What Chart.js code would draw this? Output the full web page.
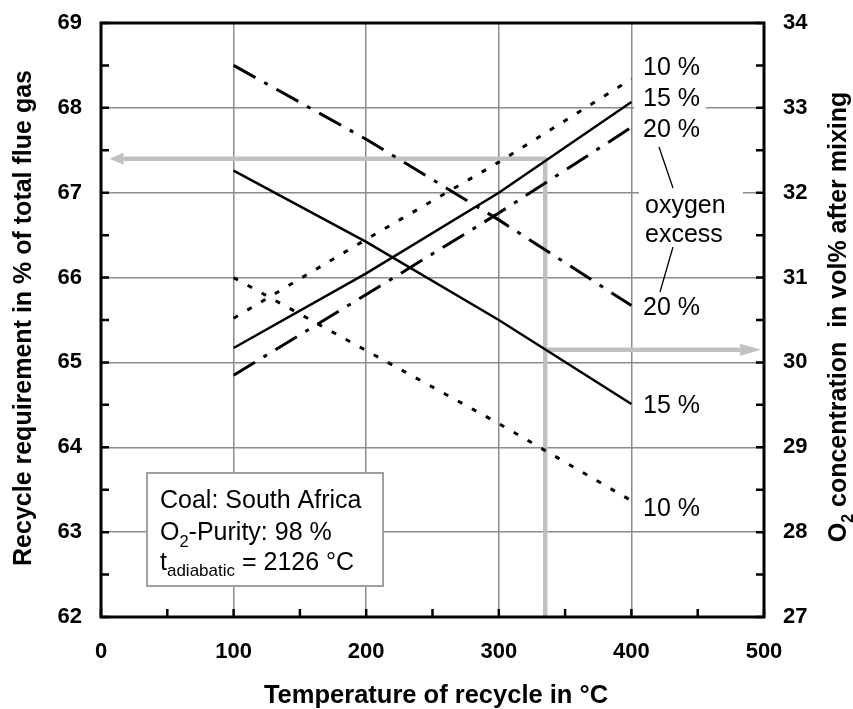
<!DOCTYPE html>
<html><head><meta charset="utf-8">
<script src="https://cdn.jsdelivr.net/npm/chart.js@4/dist/chart.umd.min.js"></script>
<style>html,body{margin:0;padding:0;background:#fff;}</style>
</head><body>
<canvas id="c" width="853" height="709" style="display:block;width:853px;height:709px"></canvas>
<script>
// ---- data ----
const temps = [100, 200, 300, 400];
// recycle requirement (left axis, % of total flue gas) - falling lines
const recycle10 = [66.0, 65.14, 64.28, 63.37];
const recycle15 = [67.26, 66.42, 65.5, 64.51];
const recycle20 = [68.5, 67.63, 66.68, 65.67];
// O2 concentration after mixing (right axis, vol%) - rising lines
const o2conc10 = [30.52, 31.45, 32.36, 33.34];
const o2conc15 = [30.17, 31.05, 32.0, 33.07];
const o2conc20 = [29.85, 30.8, 31.76, 32.77];
// reading example (grey guide)
const guideTemp = [335, 335, 17];
const guideRecycle = [62, 67.4, 67.4];
const guideO2Temp = [335, 482];
const guideO2 = [30.15, 30.15];
const xTicks = [0, 100, 200, 300, 400, 500];

const FONT = '"Liberation Sans", Arial, Helvetica, sans-serif';
const pts = (xs, ys) => xs.map((x, i) => ({x: x, y: ys[i]}));

const dotted = [5, 11];
const dashDot = [25, 10, 4, 10];

function lineDs(data, axis, dash, width) {
  return {data: data, yAxisID: axis, borderColor: '#000', borderWidth: width,
          borderDash: dash, pointRadius: 0, tension: 0, fill: false, order: 0};
}

function head(ctx, tip, from, len, half) {
  const dx = tip.x - from.x, dy = tip.y - from.y;
  const L = Math.hypot(dx, dy); const ux = dx / L, uy = dy / L;
  const bx = tip.x, by = tip.y;
  const ex = bx + ux * len, ey = by + uy * len;
  ctx.beginPath();
  ctx.moveTo(ex, ey);
  ctx.lineTo(bx - uy * half, by + ux * half);
  ctx.lineTo(bx + uy * half, by - ux * half);
  ctx.closePath();
  ctx.fill();
}

const deco = {
  id: 'deco',
  afterDatasetsDraw(chart) {
    const ctx = chart.ctx;
    const a = chart.chartArea;
    const xs = chart.scales.x, ys = chart.scales.y, y2 = chart.scales.y2;
    ctx.save();
    // arrow heads for the grey guides
    ctx.fillStyle = '#c0c0c0';
    const m1 = chart.getDatasetMeta(6).data;
    head(ctx, m1[2], m1[1], 14, 6);
    const m2 = chart.getDatasetMeta(7).data;
    head(ctx, m2[1], m2[0], 21, 6);

    // white backgrounds behind some labels
    ctx.fillStyle = '#fff';
    ctx.fillRect(634, 95, 72, 19);
    ctx.fillRect(639, 180, 104, 68);

    // labels
    ctx.fillStyle = '#000';
    ctx.font = '25px ' + FONT;
    ctx.textAlign = 'left';
    ctx.textBaseline = 'alphabetic';
    ctx.fillText('10 %', 643, 75);
    ctx.fillText('15 %', 643, 106);
    ctx.fillText('20 %', 643, 137);
    ctx.fillText('oxygen', 645, 213);
    ctx.fillText('excess', 645, 242);
    ctx.fillText('20 %', 643, 315);
    ctx.fillText('15 %', 643, 413);
    ctx.fillText('10 %', 643, 516);

    // leader lines
    ctx.strokeStyle = '#000';
    ctx.lineWidth = 1.3;
    ctx.beginPath();
    ctx.moveTo(659, 147); ctx.lineTo(673, 188);
    ctx.moveTo(673, 247); ctx.lineTo(660, 292);
    ctx.stroke();

    // info box
    ctx.fillStyle = '#fff';
    ctx.fillRect(147, 473, 236, 113);
    ctx.strokeStyle = '#a0a0a0';
    ctx.lineWidth = 2;
    ctx.strokeRect(147, 473, 236, 113);
    ctx.fillStyle = '#000';
    ctx.font = '25px ' + FONT;
    let x = 160;
    ctx.fillText('Coal: South Africa', x, 508);
    ctx.fillText('O', x, 540);
    let w = ctx.measureText('O').width;
    ctx.font = '16.5px ' + FONT;
    ctx.fillText('2', x + w, 547);
    let w2 = ctx.measureText('2').width;
    ctx.font = '25px ' + FONT;
    ctx.fillText('-Purity: 98 %', x + w + w2, 540);
    ctx.fillText('t', x, 570);
    w = ctx.measureText('t').width;
    ctx.font = '17px ' + FONT;
    ctx.fillText('adiabatic', x + w, 576);
    w2 = ctx.measureText('adiabatic').width;
    ctx.font = '25px ' + FONT;
    ctx.fillText(' = 2126 °C', x + w + w2, 570);

    // plot frame
    ctx.strokeStyle = '#000';
    ctx.lineWidth = 3;
    ctx.strokeRect(a.left, a.top, a.right - a.left, a.bottom - a.top);

    // inward tick marks
    ctx.lineWidth = 2.5;
    ctx.beginPath();
    for (let v = 0; v <= 500; v += 50) {
      const px = xs.getPixelForValue(v);
      ctx.moveTo(px, a.bottom); ctx.lineTo(px, a.bottom - 8);
    }
    for (let v = 62; v <= 69.001; v += 0.5) {
      const py = ys.getPixelForValue(v);
      ctx.moveTo(a.left, py); ctx.lineTo(a.left + 8, py);
    }
    for (let v = 27; v <= 34.001; v += 0.5) {
      const py = y2.getPixelForValue(v);
      ctx.moveTo(a.right, py); ctx.lineTo(a.right - 8, py);
    }
    ctx.stroke();
    ctx.restore();
  },
  afterDraw(chart) {
    const ctx = chart.ctx;
    ctx.save();
    ctx.fillStyle = '#000';
    ctx.font = 'bold 25.5px ' + FONT;
    ctx.textBaseline = 'alphabetic';
    ctx.textAlign = 'center';
    ctx.fillText('Temperature of recycle in °C', 436, 703);
    // left title
    ctx.save();
    ctx.translate(31, 318);
    ctx.rotate(-Math.PI / 2);
    ctx.font = 'bold 25px ' + FONT;
    ctx.fillText('Recycle requirement in % of total flue gas', 0, 0);
    ctx.restore();
    // right title with subscript
    ctx.save();
    ctx.translate(846, 317);
    ctx.rotate(-Math.PI / 2);
    ctx.textAlign = 'left';
    ctx.font = 'bold 25px ' + FONT;
    const wO = ctx.measureText('O').width;
    const rest = ' concentration  in vol% after mixing';
    const wR = ctx.measureText(rest).width;
    ctx.font = 'bold 16px ' + FONT;
    const w2 = ctx.measureText('2').width;
    const total = wO + w2 + wR;
    let s = -total / 2;
    ctx.font = 'bold 25px ' + FONT;
    ctx.fillText('O', s, 0);
    ctx.font = 'bold 16px ' + FONT;
    ctx.fillText('2', s + wO, 7);
    ctx.font = 'bold 25px ' + FONT;
    ctx.fillText(rest, s + wO + w2, 0);
    ctx.restore();
    ctx.restore();
  }
};

const gridColor = (ctx) => '#8c8c8c';
const fixV = (w) => (s) => { s.width = w; s.paddingTop = 0; s.paddingBottom = 0; };

new Chart(document.getElementById('c'), {
  type: 'line',
  data: {
    datasets: [
      lineDs(pts(temps, recycle10), 'y', dotted, 3),
      lineDs(pts(temps, recycle15), 'y', [], 2.5),
      lineDs(pts(temps, recycle20), 'y', dashDot, 3),
      lineDs(pts(temps, o2conc10), 'y2', dotted, 3),
      lineDs(pts(temps, o2conc15), 'y2', [], 2.5),
      lineDs(pts(temps, o2conc20), 'y2', dashDot, 3),
      {data: pts(guideTemp, guideRecycle), yAxisID: 'y', borderColor: '#c0c0c0', borderWidth: 4.5,
       pointRadius: 0, tension: 0, fill: false, order: 10, borderJoinStyle: 'miter'},
      {data: pts(guideO2Temp, guideO2), yAxisID: 'y2', borderColor: '#c0c0c0', borderWidth: 4.5,
       pointRadius: 0, tension: 0, fill: false, order: 10}
    ]
  },
  options: {
    responsive: false,
    devicePixelRatio: 1,
    animation: false,
    layout: {padding: {top: 23, left: 0, right: 0, bottom: 0}},
    plugins: {legend: {display: false}, tooltip: {enabled: false}},
    scales: {
      x: {
        type: 'linear', min: 0, max: 500,
        afterBuildTicks: (s) => { s.ticks = xTicks.map(v => ({value: v})); },
        ticks: {color: '#000', font: {family: FONT, size: 22, weight: 'bold'}, padding: 22, maxRotation: 0},
        grid: {color: gridColor, lineWidth: 1.5, drawTicks: false},
        border: {display: false},
        afterFit: (s) => { s.height = 92; }
      },
      y: {
        position: 'left', min: 62, max: 69,
        ticks: {stepSize: 1, color: '#000', font: {family: FONT, size: 22, weight: 'bold'}, padding: 19},
        grid: {color: gridColor, lineWidth: 1.5, drawTicks: false},
        border: {display: false},
        afterFit: fixV(101)
      },
      y2: {
        position: 'right', min: 27, max: 34,
        ticks: {stepSize: 1, color: '#000', font: {family: FONT, size: 22, weight: 'bold'}, padding: 19},
        grid: {display: false, drawTicks: false},
        border: {display: false},
        afterFit: fixV(89)
      }
    }
  },
  plugins: [deco]
});
</script>
</body></html>
